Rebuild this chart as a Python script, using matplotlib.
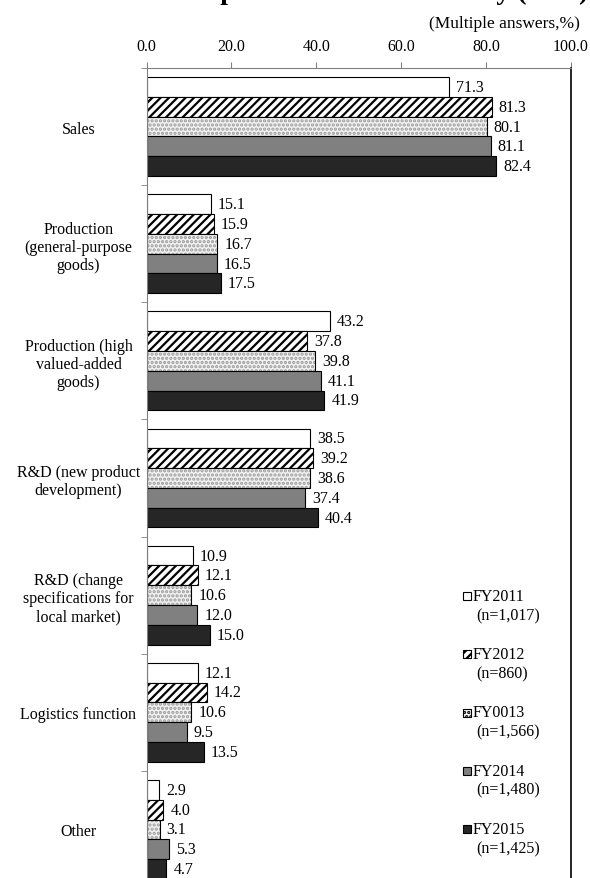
import matplotlib
matplotlib.use('Agg')
import matplotlib.pyplot as plt
from matplotlib.patches import Rectangle
import numpy as np

plt.rcParams['font.family'] = ['Liberation Serif', 'DejaVu Serif']
plt.rcParams['hatch.linewidth'] = 1.6

#_____________________DATA_____________________________#

categories = ['Sales',
              'Production\n(general-purpose\ngoods)',
              'Production (high\nvalued-added\ngoods)',
              'R&D (new product\ndevelopment)',
              'R&D (change\nspecifications for\nlocal market)',
              'Logistics function',
              'Other']

series = ['FY2011', 'FY2012', 'FY0013', 'FY2014', 'FY2015']
counts = ['(n=1,017)', '(n=860)', '(n=1,566)', '(n=1,480)', '(n=1,425)']

fy2011 = [71.3, 15.1, 43.2, 38.5, 10.9, 12.1, 2.9]
fy2012 = [81.3, 15.9, 37.8, 39.2, 12.1, 14.2, 4.0]
fy2013 = [80.1, 16.7, 39.8, 38.6, 10.6, 10.6, 3.1]
fy2014 = [81.1, 16.5, 41.1, 37.4, 12.0,  9.5, 5.3]
fy2015 = [82.4, 17.5, 41.9, 40.4, 15.0, 13.5, 4.7]

values = [fy2011, fy2012, fy2013, fy2014, fy2015]

#_____________________STYLE____________________________#

faces   = ['white', 'white', '#f2f2f2', '#808080', '#262626']
hatches = [None, '////', '....', None, None]
hcolors = ['black', 'black', '#9a9a9a', 'black', 'black']

W, H = 590, 879
fig = plt.figure(figsize=(W / 100, H / 100), dpi=100)
ax = fig.add_axes([146.5 / W, 1 - 889 / H, (571 - 146.5) / W, 820 / H])

y = np.arange(len(categories))
bh = 0.169

for k, vals in enumerate(values):
	pos = y + (k - 2) * bh
	if hatches[k]:
		ax.barh(pos, vals, height=bh, color=faces[k], hatch=hatches[k],
		        edgecolor=hcolors[k], linewidth=0)
		bars = ax.barh(pos, vals, height=bh, fill=False,
		               edgecolor='black', linewidth=0.8)
	else:
		bars = ax.barh(pos, vals, height=bh, color=faces[k],
		               edgecolor='black', linewidth=0.8)
	ax.bar_label(bars, fmt='%.1f', padding=5, fontsize=11.5)

ax.set_xlim(0, 100)
ax.set_ylim(6.5, -0.5)

ax.xaxis.tick_top()
ax.set_xticks(np.arange(0, 101, 20))
ax.set_xticklabels(['%.1f' % v for v in np.arange(0, 101, 20)], fontsize=11.5)
ax.tick_params(axis='x', length=4, color='#808080', pad=6)

ax.set_yticks(y)
ax.set_yticklabels(categories, ha='center', multialignment='center', fontsize=11.5)
ax.tick_params(axis='y', which='major', length=0, pad=49)
ax.set_yticks(np.arange(-0.5, 7, 1), minor=True)
ax.tick_params(axis='y', which='minor', length=4, color='#808080')

ax.spines['bottom'].set_visible(False)
ax.spines['left'].set_color('#808080')
ax.spines['top'].set_color('#808080')
ax.spines['right'].set_color('black')
ax.spines['right'].set_linewidth(1.2)

#_____________________LEGEND___________________________#

for k in range(len(series)):
	yc = 597 + k * 58.25
	fig.add_artist(Rectangle((463 / W, 1 - (yc + 4) / H), 7.5 / W, 8 / H,
	               transform=fig.transFigure, facecolor=faces[k],
	               hatch=hatches[k], edgecolor='black', linewidth=0.8))
	fig.text(472.5 / W, 1 - yc / H, series[k], ha='left', va='center', fontsize=11.5)
	fig.text(476 / W, 1 - (yc + 19) / H, counts[k], ha='left', va='center', fontsize=11.5)

#_____________________TITLES___________________________#

# title is cropped at the top edge in the source, only its descenders show
fig.text(588 / W, 1 + 1 / H, 'Functions to expand in the host country (Asia)',
         ha='right', va='baseline', fontsize=20, fontweight='bold')
fig.text(580 / W, 1 - 24 / H, '(Multiple answers,%)', ha='right', va='center', fontsize=12.5)

fig.savefig('out.png', dpi=100)
